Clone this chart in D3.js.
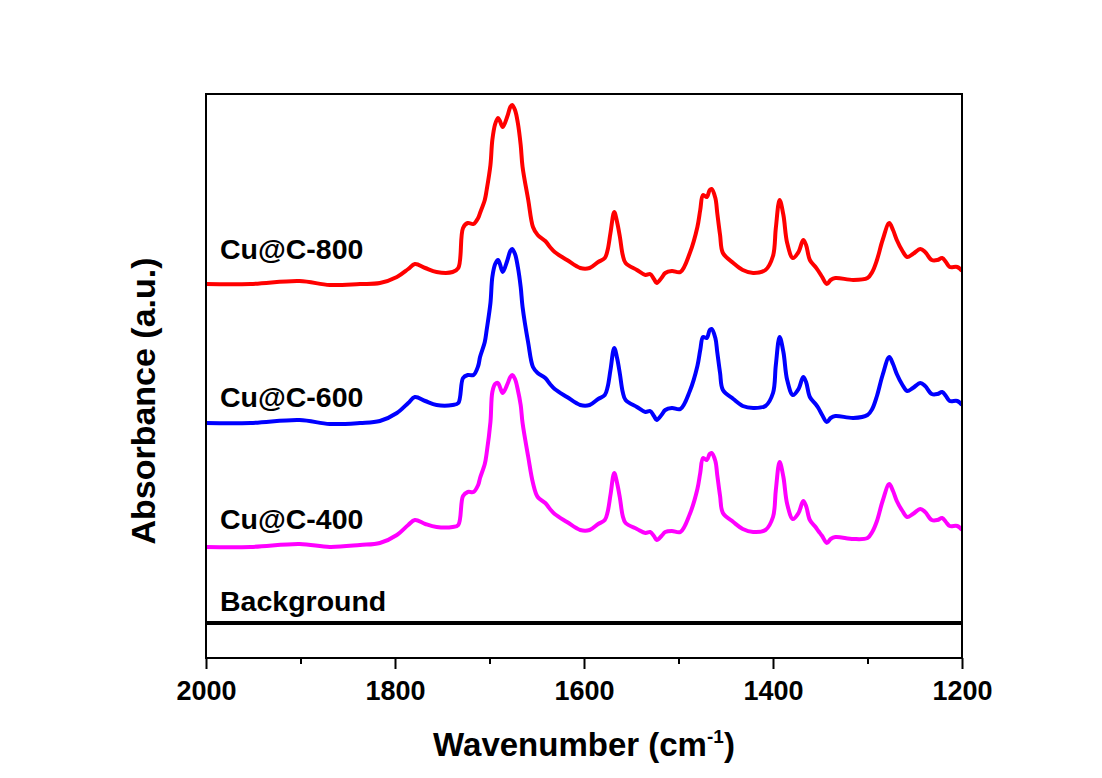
<!DOCTYPE html>
<html>
<head>
<meta charset="utf-8">
<script src="https://cdn.jsdelivr.net/npm/d3@7"></script>
<style>
  html, body { margin: 0; padding: 0; background: #ffffff; }
  svg { display: block; }
  text { font-family: "Liberation Sans", Arial, sans-serif; font-weight: bold; fill: #000; }
</style>
</head>
<body>
<svg id="chart" width="1102" height="778"></svg>
<script>
// Wavenumber grid (cm-1) shared by the three spectra
const wavenumbers = [
  2000, 1953, 1901, 1869, 1837, 1816, 1798, 1786, 1779, 1768,
  1756, 1739, 1733, 1728, 1723, 1717, 1712, 1710, 1705, 1703,
  1699, 1697, 1694, 1691, 1689, 1686, 1681, 1678, 1676, 1673,
  1670, 1667, 1665, 1659, 1654, 1649, 1641, 1636, 1631, 1618,
  1604, 1594, 1585, 1578, 1575, 1572, 1568, 1565, 1562, 1559,
  1556, 1544, 1535, 1530, 1526, 1523, 1518, 1514, 1507, 1498,
  1488, 1480, 1477, 1474, 1470, 1467, 1465, 1461, 1459, 1456,
  1453, 1442, 1432, 1421, 1408, 1400, 1397, 1393, 1389, 1385,
  1379, 1373, 1368, 1365, 1361, 1355, 1352, 1348, 1343, 1339,
  1334, 1315, 1300, 1295, 1290, 1284, 1277, 1273, 1269, 1263,
  1258, 1252, 1244, 1239, 1232, 1226, 1221, 1217, 1213, 1205,
  1200
];

// Absorbance (a.u., stacked) for Cu@C-800
const cu800 = [
  3.74, 3.74, 3.77, 3.73, 3.74, 3.75, 3.81, 3.89, 3.94, 3.90,
  3.86, 3.86, 3.90, 4.30, 4.35, 4.34, 4.40, 4.45, 4.58, 4.68,
  4.93, 5.18, 5.34, 5.40, 5.37, 5.31, 5.42, 5.51, 5.53, 5.48,
  5.35, 5.13, 4.91, 4.58, 4.31, 4.23, 4.17, 4.11, 4.06, 3.98,
  3.90, 3.90, 3.96, 4.00, 4.08, 4.25, 4.46, 4.36, 4.21, 4.03,
  3.95, 3.88, 3.83, 3.84, 3.79, 3.75, 3.80, 3.85, 3.87, 3.86,
  4.05, 4.31, 4.48, 4.63, 4.61, 4.68, 4.69, 4.60, 4.45, 4.23,
  4.05, 3.95, 3.88, 3.85, 3.88, 4.02, 4.30, 4.58, 4.43, 4.15,
  4.00, 4.06, 4.18, 4.13, 3.98, 3.91, 3.87, 3.81, 3.74, 3.78,
  3.80, 3.78, 3.80, 3.86, 3.98, 4.18, 4.35, 4.28, 4.18, 4.07,
  4.01, 4.04, 4.09, 4.06, 3.98, 3.98, 4.00, 3.96, 3.91, 3.91,
  3.87
];

// Absorbance (a.u., stacked) for Cu@C-600
const cu600 = [
  2.35, 2.35, 2.38, 2.34, 2.35, 2.37, 2.45, 2.55, 2.61, 2.57,
  2.53, 2.53, 2.55, 2.80, 2.83, 2.83, 2.92, 3.01, 3.16, 3.28,
  3.55, 3.81, 3.94, 3.98, 3.94, 3.86, 3.98, 4.07, 4.09, 4.04,
  3.91, 3.71, 3.51, 3.15, 2.91, 2.85, 2.80, 2.74, 2.69, 2.61,
  2.53, 2.53, 2.59, 2.63, 2.71, 2.88, 3.10, 3.00, 2.84, 2.66,
  2.58, 2.51, 2.46, 2.47, 2.42, 2.38, 2.43, 2.48, 2.50, 2.49,
  2.67, 2.92, 3.08, 3.21, 3.20, 3.28, 3.29, 3.20, 3.06, 2.85,
  2.68, 2.59, 2.52, 2.50, 2.52, 2.65, 2.93, 3.21, 3.06, 2.78,
  2.63, 2.69, 2.81, 2.76, 2.61, 2.54, 2.50, 2.43, 2.36, 2.40,
  2.42, 2.40, 2.43, 2.49, 2.62, 2.83, 3.01, 2.94, 2.84, 2.73,
  2.67, 2.70, 2.75, 2.72, 2.64, 2.64, 2.66, 2.62, 2.57, 2.57,
  2.53
];

// Absorbance (a.u., stacked) for Cu@C-400
const cu400 = [
  1.11, 1.11, 1.14, 1.11, 1.13, 1.15, 1.23, 1.33, 1.38, 1.34,
  1.31, 1.31, 1.33, 1.62, 1.66, 1.66, 1.73, 1.80, 1.94, 2.05,
  2.36, 2.66, 2.74, 2.75, 2.71, 2.65, 2.74, 2.81, 2.83, 2.79,
  2.68, 2.53, 2.35, 2.01, 1.75, 1.61, 1.55, 1.49, 1.44, 1.36,
  1.28, 1.28, 1.34, 1.38, 1.46, 1.63, 1.85, 1.75, 1.60, 1.42,
  1.35, 1.29, 1.25, 1.26, 1.22, 1.18, 1.22, 1.26, 1.27, 1.26,
  1.44, 1.69, 1.85, 2.00, 1.98, 2.04, 2.05, 1.97, 1.83, 1.62,
  1.45, 1.36, 1.29, 1.26, 1.28, 1.41, 1.68, 1.96, 1.81, 1.54,
  1.39, 1.45, 1.57, 1.52, 1.38, 1.31, 1.27, 1.22, 1.15, 1.19,
  1.21, 1.19, 1.20, 1.26, 1.37, 1.57, 1.74, 1.67, 1.57, 1.47,
  1.41, 1.44, 1.49, 1.46, 1.38, 1.38, 1.40, 1.36, 1.32, 1.32,
  1.28
];

// Background spectrum: flat trace
const bgWavenumbers = [2000, 1800, 1600, 1400, 1200];
const background = [0.35, 0.35, 0.35, 0.35, 0.35];

const seriesNames = ["Cu@C-800", "Cu@C-600", "Cu@C-400", "Background"];
const seriesColors = ["#ff0000", "#0000ff", "#ff00ff", "#000000"];
const majorTicks = [2000, 1800, 1600, 1400, 1200];
const minorTicks = [1900, 1700, 1500, 1300];

const svg = d3.select("#chart");
const W = 1102, H = 778;
const margin = { left: 206, top: 94, right: W - 962, bottom: H - 658 };

const x = d3.scaleLinear().domain([2000, 1200]).range([margin.left, W - margin.right]);
const y = d3.scaleLinear().domain([0, 5.64]).range([H - margin.bottom, margin.top]);

const line = d3.line()
  .x(d => x(d[0]))
  .y(d => y(d[1]))
  .curve(d3.curveCatmullRom.alpha(0.5));

const spectra = [
  { name: seriesNames[0], color: seriesColors[0], pts: d3.zip(wavenumbers, cu800), width: 4 },
  { name: seriesNames[1], color: seriesColors[1], pts: d3.zip(wavenumbers, cu600), width: 4 },
  { name: seriesNames[2], color: seriesColors[2], pts: d3.zip(wavenumbers, cu400), width: 4 },
  { name: seriesNames[3], color: seriesColors[3], pts: d3.zip(bgWavenumbers, background), width: 4 }
];

svg.append("clipPath").attr("id", "plotclip")
  .append("rect")
  .attr("x", margin.left).attr("y", margin.top)
  .attr("width", W - margin.left - margin.right)
  .attr("height", H - margin.top - margin.bottom);

svg.append("g").attr("clip-path", "url(#plotclip)")
  .selectAll("path")
  .data(spectra)
  .join("path")
  .attr("fill", "none")
  .attr("stroke", d => d.color)
  .attr("stroke-width", d => d.width)
  .attr("stroke-linejoin", "round")
  .attr("d", d => line(d.pts));

// Curve labels
const labelPos = [
  { text: seriesNames[0], y: 259 },
  { text: seriesNames[1], y: 407 },
  { text: seriesNames[2], y: 529 },
  { text: seriesNames[3], y: 611 }
];
svg.append("g").selectAll("text")
  .data(labelPos)
  .join("text")
  .attr("x", 220)
  .attr("y", d => d.y)
  .attr("font-size", 28.5)
  .text(d => d.text);

// Frame
svg.append("rect")
  .attr("x", margin.left).attr("y", margin.top)
  .attr("width", W - margin.left - margin.right)
  .attr("height", H - margin.top - margin.bottom)
  .attr("fill", "none")
  .attr("stroke", "#000")
  .attr("stroke-width", 2);

// Bottom axis: major ticks with labels, minor ticks without
const axisY = H - margin.bottom;
svg.append("g")
  .attr("transform", `translate(0,${axisY})`)
  .call(d3.axisBottom(x).tickValues(majorTicks).tickSize(11).tickPadding(12).tickFormat(d3.format("d")))
  .call(g => g.select(".domain").remove())
  .call(g => g.selectAll(".tick line").attr("stroke", "#000").attr("stroke-width", 2))
  .call(g => g.selectAll(".tick text")
    .attr("font-size", 27)
    .attr("font-family", "'Liberation Sans', Arial, sans-serif")
    .attr("font-weight", "bold")
    .attr("fill", "#000"));

svg.append("g")
  .attr("transform", `translate(0,${axisY})`)
  .call(d3.axisBottom(x).tickValues(minorTicks).tickSize(6).tickFormat(""))
  .call(g => g.select(".domain").remove())
  .call(g => g.selectAll(".tick line").attr("stroke", "#000").attr("stroke-width", 2));

// Axis titles
const xTitle = svg.append("text")
  .attr("x", (margin.left + W - margin.right) / 2)
  .attr("y", 756)
  .attr("text-anchor", "middle")
  .attr("font-size", 33);
xTitle.append("tspan").text("Wavenumber (cm");
xTitle.append("tspan").attr("font-size", 19).attr("dy", -13).text("-1");
xTitle.append("tspan").attr("dy", 13).text(")");

svg.append("text")
  .attr("transform", `translate(155,401) rotate(-90)`)
  .attr("text-anchor", "middle")
  .attr("font-size", 34)
  .text("Absorbance (a.u.)");
</script>
</body>
</html>
